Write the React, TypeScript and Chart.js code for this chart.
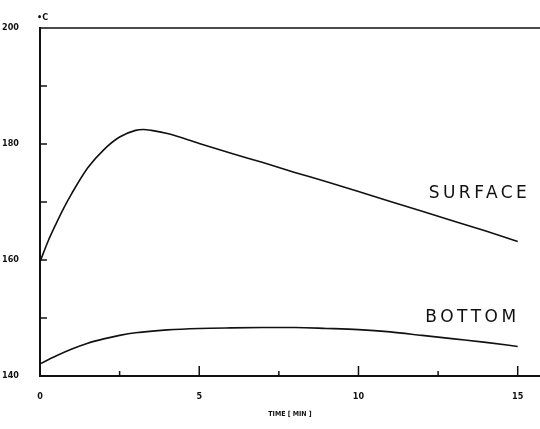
import React, { useEffect, useRef } from "react";
import Chart from "chart.js/auto";

// time in minutes, temperature in °C
const surfaceTime = [0, 0.25, 0.5, 0.75, 1, 1.5, 2, 2.5, 3, 3.25, 3.5, 4, 5, 6, 7, 8, 9, 10, 11, 12, 13, 14, 15];
const surfaceTemp = [159.7, 163.2, 166.2, 169.0, 171.5, 175.9, 179.0, 181.2, 182.35, 182.5, 182.35, 181.8, 180.1, 178.4, 176.8, 175.1, 173.5, 171.8, 170.1, 168.4, 166.7, 165.0, 163.2];

const bottomTime = [0, 0.5, 1, 1.5, 2, 2.5, 3, 4, 5, 6, 7, 8, 9, 10, 11, 12, 13, 14, 15];
const bottomTemp = [142.1, 143.45, 144.65, 145.65, 146.4, 147.0, 147.45, 147.95, 148.2, 148.3, 148.35, 148.35, 148.2, 148.0, 147.6, 147.0, 146.4, 145.8, 145.1];

const xLabelTicks = [0, 5, 10, 15];
const yLabelTicks = [140, 160, 180, 200];
const xMajorMarks = [5, 10, 15];
const xMinorMarks = [2.5, 7.5, 12.5];
const yMarks = [150, 160, 170, 180, 190];

const curveLabels = ["SURFACE", "BOTTOM"];
const curveLabelX = [13.8, 13.58];
const curveLabelY = [171.5, 150.0];

const INK = "#111";
const TICK_FONT = '"DejaVu Sans Condensed", "Liberation Sans Narrow", sans-serif';

// inward tick marks, top frame line, curve names and unit
const axisMarks = {
	id: "axisMarks",
	afterDraw(chart: any) {
		const { ctx, chartArea, scales } = chart;
		const x = scales.x;
		const y = scales.y;
		ctx.save();
		ctx.strokeStyle = INK;
		ctx.lineWidth = 1.5;
		ctx.beginPath();
		ctx.moveTo(chartArea.left, chartArea.top);
		ctx.lineTo(chartArea.right, chartArea.top);
		yMarks.forEach(v => {
			const py = y.getPixelForValue(v);
			ctx.moveTo(chartArea.left, py);
			ctx.lineTo(chartArea.left + 7, py);
		});
		xMajorMarks.forEach(v => {
			const px = x.getPixelForValue(v);
			ctx.moveTo(px, chartArea.bottom);
			ctx.lineTo(px, chartArea.bottom - 10);
		});
		xMinorMarks.forEach(v => {
			const px = x.getPixelForValue(v);
			ctx.moveTo(px, chartArea.bottom);
			ctx.lineTo(px, chartArea.bottom - 5);
		});
		ctx.stroke();

		ctx.fillStyle = INK;
		ctx.font = '17px "DejaVu Sans", sans-serif';
		ctx.letterSpacing = "3.5px";
		ctx.textAlign = "center";
		ctx.textBaseline = "middle";
		curveLabels.forEach((t, i) => {
			ctx.fillText(t, x.getPixelForValue(curveLabelX[i]), y.getPixelForValue(curveLabelY[i]));
		});

		ctx.letterSpacing = "0px";
		ctx.font = "bold 9px " + TICK_FONT;
		ctx.textAlign = "left";
		ctx.fillText("•C", chartArea.left - 3, chartArea.top - 10);
		ctx.restore();
	},
};

const App: React.FC = () => {
	const chartRef = useRef<HTMLCanvasElement>(null);

	useEffect(() => {
		if (!chartRef.current) return;

		const chartConfig = {
			type: "line",
			data: {
				datasets: [
					{
						label: "SURFACE",
						data: surfaceTime.map((t, i) => ({ x: t, y: surfaceTemp[i] })),
						borderColor: INK,
						borderWidth: 1.6,
						pointRadius: 0,
						cubicInterpolationMode: "monotone",
					},
					{
						label: "BOTTOM",
						data: bottomTime.map((t, i) => ({ x: t, y: bottomTemp[i] })),
						borderColor: INK,
						borderWidth: 1.6,
						pointRadius: 0,
						cubicInterpolationMode: "monotone",
					},
				],
			},
			options: {
				animation: false,
				responsive: false,
				layout: { padding: { top: 28, left: 0, right: 0, bottom: 0 } },
				plugins: {
					legend: { display: false },
					tooltip: { enabled: false },
				},
				scales: {
					x: {
						type: "linear",
						min: 0,
						max: 15.7,
						afterBuildTicks: (scale: any) => {
							scale.ticks = xLabelTicks.map(v => ({ value: v }));
						},
						afterFit: (scale: any) => {
							scale.height = 53;
						},
						grid: { display: false, drawTicks: false },
						border: { display: true, color: INK, width: 2 },
						ticks: {
							color: INK,
							padding: 15,
							maxRotation: 0,
							font: { family: TICK_FONT, size: 9, weight: "bold" },
						},
						title: {
							display: true,
							text: "TIME [ MIN ]",
							color: INK,
							padding: { top: 0, bottom: 11 },
							font: { family: TICK_FONT, size: 7, weight: "bold" },
						},
					},
					y: {
						min: 140,
						max: 200,
						afterBuildTicks: (scale: any) => {
							scale.ticks = yLabelTicks.map(v => ({ value: v }));
						},
						afterFit: (scale: any) => {
							scale.width = 40;
						},
						grid: { display: false, drawTicks: false },
						border: { display: true, color: INK, width: 2 },
						ticks: {
							color: INK,
							padding: 21,
							font: { family: TICK_FONT, size: 9, weight: "bold" },
						},
					},
				},
			},
			plugins: [axisMarks],
		};

		const chartInstance = new Chart(chartRef.current, chartConfig as any);

		return () => {
			chartInstance.destroy();
		};
	}, []);

	return (
		<div style={{ position: "absolute", left: 0, top: 0, width: 540, height: 429, background: "#fff" }}>
			<canvas ref={chartRef} width={540} height={429} />
		</div>
	);
};

export default App;
